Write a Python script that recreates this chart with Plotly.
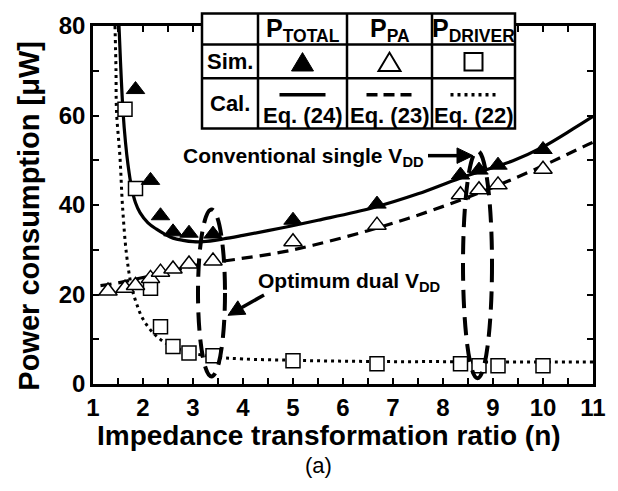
import math
import plotly.graph_objects as go

# ---- simulated results (markers) ----
n_total = [1.85, 2.15, 2.35, 2.6, 2.92, 3.4, 5.0, 6.68, 8.35, 8.72, 9.1, 10.0]
p_total = [65.8, 45.5, 37.6, 34.0, 33.7, 33.5, 36.6, 40.2, 46.7, 47.8, 48.9, 52.4]

n_pa = [1.3, 1.64, 1.85, 2.15, 2.35, 2.6, 2.92, 3.4, 5.0, 6.68, 8.35, 8.72, 9.1, 10.0]
p_pa = [20.8, 21.4, 22.0, 23.6, 25.0, 25.7, 26.8, 27.5, 31.8, 35.5, 42.3, 43.4, 44.5, 48.0]

n_drv = [1.64, 1.85, 2.15, 2.35, 2.6, 2.92, 3.4, 5.0, 6.68, 8.35, 8.72, 9.1, 10.0]
p_drv = [61.4, 43.7, 21.4, 12.8, 8.4, 6.9, 6.3, 5.2, 4.5, 4.5, 4.1, 4.1, 4.1]

# ---- calculated curves, Eq. (24) / (23) / (22) ----
n_eq24 = [1.52, 1.55, 1.6, 1.65, 1.7, 1.77, 1.85, 1.94, 2.1, 2.27, 2.45, 2.6, 2.8,
          3.0, 3.2, 3.6, 4.0, 4.74, 5.5, 6.6, 7.5, 8.34, 9.4, 10.0, 10.6, 11.0]
p_eq24 = [80, 72, 61, 54, 49, 44, 40.5, 38.3, 36.0, 34.6, 33.4, 32.6, 32.1,
          31.8, 31.8, 32.4, 33.2, 34.8, 36.6, 39.4, 42.5, 46.0, 49.9, 53.0, 57.0, 59.8]

n_eq23 = [1.15, 1.5, 2.0, 2.5, 3.08, 3.88, 4.74, 5.4, 6.48, 7.3, 8.08, 8.7, 9.4,
          10.2, 10.8, 11.0]
p_eq23 = [22.0, 22.6, 23.8, 25.0, 26.6, 27.9, 29.4, 31.0, 34.2, 37.0, 40.0, 42.6,
          45.8, 49.8, 53.0, 54.0]

n_eq22 = [1.44, 1.46, 1.47, 1.54, 1.59, 1.67, 1.77, 1.87, 2.0, 2.24, 2.54, 2.88,
          3.4, 4.0, 5.0, 6.0, 7.0, 8.0, 9.0, 10.0, 11.0]
p_eq22 = [80, 70, 61, 50.6, 39.8, 29.0, 21.8, 18.0, 14.5, 11.0, 8.6, 7.2,
          6.1, 5.6, 5.3, 5.1, 5.0, 5.0, 4.9, 4.9, 4.9]

FONT = "Liberation Sans, Arial, sans-serif"
W, H = 618, 491
L, R, T, B = 93, 593, 14, 384   # plot area in pixels


def px(x):
    return (x - L) / (R - L)


def py(y):
    return (B - y) / (B - T)


fig = go.Figure()

fig.add_trace(go.Scatter(x=n_eq24, y=p_eq24, mode="lines", line_shape="spline",
                         line=dict(color="black", width=3.2), showlegend=False))
fig.add_trace(go.Scatter(x=n_eq23, y=p_eq23, mode="lines", line_shape="spline",
                         line=dict(color="black", width=3.2, dash="11px,7px"),
                         showlegend=False))
fig.add_trace(go.Scatter(x=n_eq22, y=p_eq22, mode="lines", line_shape="spline",
                         line=dict(color="black", width=3, dash="3px,4px"),
                         showlegend=False))

fig.add_trace(go.Scatter(x=n_drv, y=p_drv, mode="markers",
                         marker=dict(symbol="square", size=14, color="white",
                                     line=dict(color="black", width=1.5)),
                         showlegend=False))
fig.add_trace(go.Scatter(x=n_pa, y=p_pa, mode="markers",
                         marker=dict(symbol="triangle-up", size=16, color="white",
                                     line=dict(color="black", width=1.5)),
                         showlegend=False))
fig.add_trace(go.Scatter(x=n_total, y=p_total, mode="markers",
                         marker=dict(symbol="triangle-up", size=16, color="black",
                                     line=dict(color="black", width=1)),
                         showlegend=False))

shapes = []
# dashed ovals around the chosen operating points
oval = dict(type="circle", xref="x", yref="y", layer="above",
            line=dict(color="black", width=4, dash="18px,9px"))
shapes.append(dict(oval, x0=3.1, x1=3.64, y0=1.7, y1=39.0))
shapes.append(dict(oval, x0=8.4, x1=8.98, y0=1.3, y1=52.1))


def arrow(x0, y0, x1, y1, head_len=16, head_half=8, width=3.5):
    """Arrow from (x0, y0) to tip (x1, y1), pixel coordinates."""
    dx, dy = x1 - x0, y1 - y0
    d = math.hypot(dx, dy)
    ux, uy = dx / d, dy / d
    bx, by = x1 - head_len * ux, y1 - head_len * uy
    nx, ny = -uy * head_half, ux * head_half
    shapes.append(dict(type="line", xref="paper", yref="paper", layer="above",
                       x0=px(x0), y0=py(y0), x1=px(bx + ux * 2), y1=py(by + uy * 2),
                       line=dict(color="black", width=width)))
    shapes.append(dict(type="path", xref="paper", yref="paper", layer="above",
                       path=(f"M {px(x1)} {py(y1)} L {px(bx + nx)} {py(by + ny)} "
                             f"L {px(bx - nx)} {py(by - ny)} Z"),
                       fillcolor="black", line=dict(color="black", width=1)))


arrow(428, 148, 473, 148)
arrow(264, 292, 228, 313)

# legend table
tl, tr, tt, tb = 202, 515, 1, 120
cols = [202, 258, 347, 432, 515]
rows = [1, 33, 68, 120]
shapes.append(dict(type="rect", xref="paper", yref="paper", layer="above",
                   x0=px(tl), x1=px(tr), y0=py(tb), y1=py(tt),
                   fillcolor="white", line=dict(color="black", width=2.5)))
for c in cols[1:-1]:
    shapes.append(dict(type="line", xref="paper", yref="paper", layer="above",
                       x0=px(c), x1=px(c), y0=py(tb), y1=py(tt),
                       line=dict(color="black", width=2.5)))
for r in rows[1:-1]:
    shapes.append(dict(type="line", xref="paper", yref="paper", layer="above",
                       x0=px(tl), x1=px(tr), y0=py(r), y1=py(r),
                       line=dict(color="black", width=2.5)))

# legend symbols
cx = [(cols[i] + cols[i + 1]) / 2 for i in range(1, 4)]
sym_y = 51


def tri_path(xc, yc, w, h):
    return (f"M {px(xc - w / 2)} {py(yc + h / 2)} L {px(xc + w / 2)} {py(yc + h / 2)} "
            f"L {px(xc)} {py(yc - h / 2)} Z")


shapes.append(dict(type="path", xref="paper", yref="paper", layer="above",
                   path=tri_path(cx[0], sym_y, 22, 19), fillcolor="black",
                   line=dict(color="black", width=1)))
shapes.append(dict(type="path", xref="paper", yref="paper", layer="above",
                   path=tri_path(cx[1], sym_y, 22, 19), fillcolor="white",
                   line=dict(color="black", width=2)))
shapes.append(dict(type="rect", xref="paper", yref="paper", layer="above",
                   x0=px(cx[2] - 9), x1=px(cx[2] + 9), y0=py(sym_y + 9), y1=py(sym_y - 9),
                   fillcolor="white", line=dict(color="black", width=2)))
# legend line samples
line_y = 85
for i, dash in enumerate(["solid", "11px,6px", "3px,4px"]):
    shapes.append(dict(type="line", xref="paper", yref="paper", layer="above",
                       x0=px(cx[i] - 23), x1=px(cx[i] + 23), y0=py(line_y), y1=py(line_y),
                       line=dict(color="black", width=3.5, dash=dash)))

annotations = []


def label(text, x, y, size, bold=True, xanchor="center", angle=0):
    annotations.append(dict(text=text, x=px(x), y=py(y), xref="paper", yref="paper",
                            showarrow=False, xanchor=xanchor, yanchor="middle",
                            textangle=angle,
                            font=dict(family=FONT, size=size, color="black",
                                      weight="bold" if bold else "normal")))


label("P<sub>TOTAL</sub>", cx[0], 18, 25)
label("P<sub>PA</sub>", cx[1], 18, 25)
label("P<sub>DRIVER</sub>", cx[2], 18, 25)
label("Sim.", (cols[0] + cols[1]) / 2, 51, 22)
label("Cal.", (cols[0] + cols[1]) / 2, 94, 22)
label("Eq. (24)", cx[0], 107, 22)
label("Eq. (23)", cx[1], 107, 22)
label("Eq. (22)", cx[2], 107, 22)

label("Conventional single V<sub>DD</sub>", 181, 149, 21, xanchor="left")
label("Optimum dual V<sub>DD</sub>", 256, 279, 21, xanchor="left")

# axis titles
label("Impedance transformation ratio (n)", 329, 437, 28)
label("Power consumption [μW]", 29, 210, 29, angle=-90)
label("(a)", 318, 468, 22, bold=False)

axis_common = dict(showline=True, linecolor="black", linewidth=2.5, mirror="ticks",
                   ticks="inside", ticklen=6, tickwidth=2, tickcolor="black",
                   showgrid=False, zeroline=False,
                   tickfont=dict(family=FONT, size=24, color="black", weight="bold"))
minor_common = dict(ticks="inside", ticklen=6, tickwidth=2, tickcolor="black",
                    showgrid=False)

fig.update_layout(
    width=W, height=H,
    margin=dict(l=L, r=W - R, t=T, b=H - B),
    paper_bgcolor="white", plot_bgcolor="white",
    xaxis=dict(axis_common, range=[1, 11], tick0=1, dtick=1,
               minor=dict(minor_common, dtick=0.5)),
    yaxis=dict(axis_common, range=[0, 80], tick0=0, dtick=20,
               minor=dict(minor_common, dtick=10)),
    shapes=shapes,
    annotations=annotations,
)

fig.write_html("out.html")
